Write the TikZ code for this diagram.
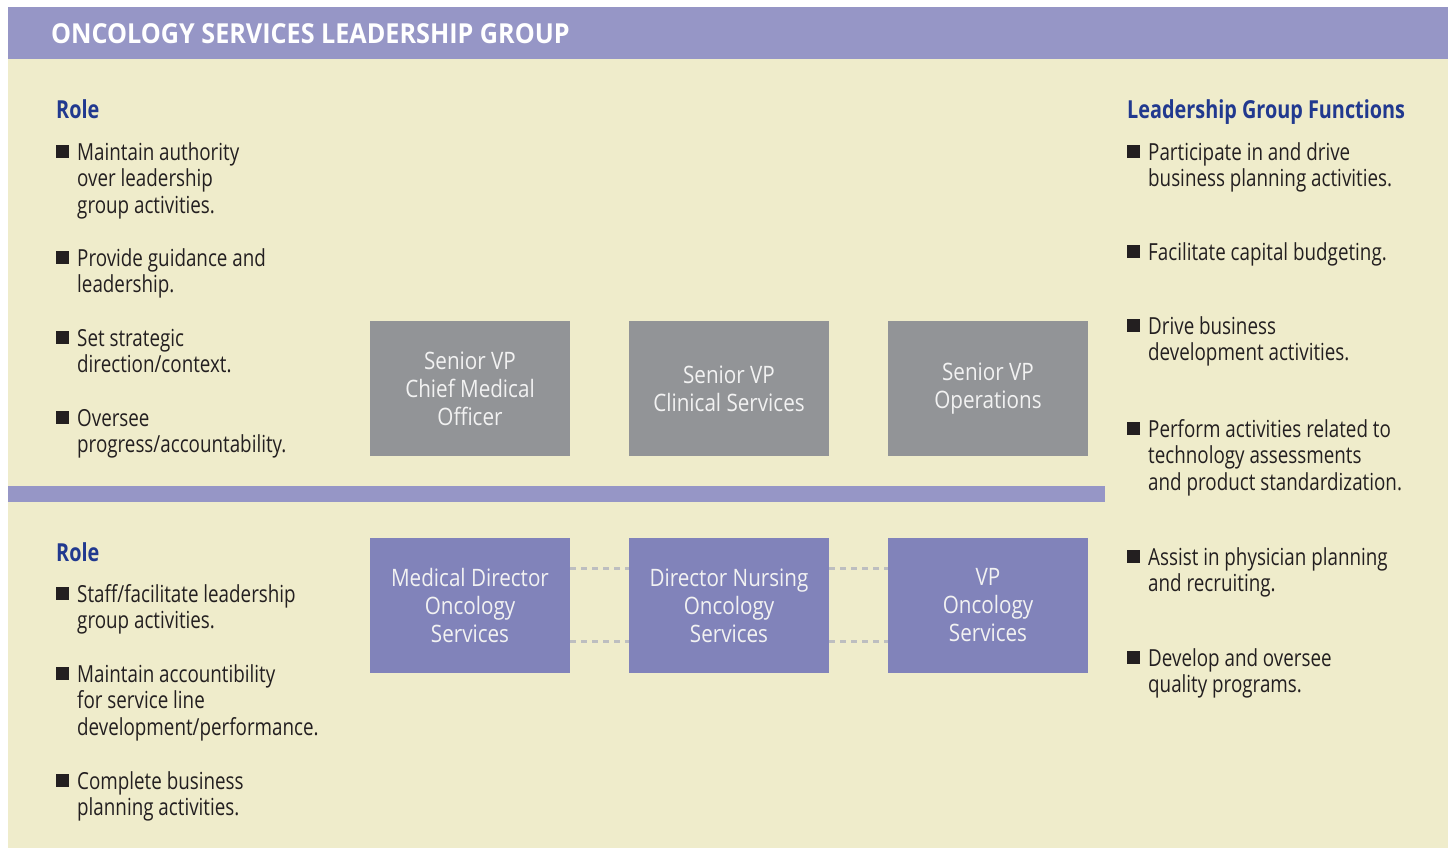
\documentclass[tikz,border=0pt]{standalone}
\usepackage{fontspec}
\setmainfont{Open Sans}[FakeStretch=0.8]
\newfontfamily\boxfont{Open Sans}[FakeStretch=0.86]
\newfontfamily\titlefont{Open Sans}[FakeStretch=0.915]
\definecolor{bandblue}{RGB}{150,150,198}
\definecolor{paper}{RGB}{239,236,203}
\definecolor{boxgray}{RGB}{146,148,151}
\definecolor{boxlilac}{RGB}{129,131,186}
\definecolor{headblue}{RGB}{33,57,143}
\definecolor{ink}{RGB}{35,31,32}
\definecolor{dashgray}{RGB}{189,190,192}
\newcommand{\bodysize}{\fontsize{23.5}{26.5}\selectfont}
\newcommand{\boxsize}{\boxfont\fontsize{24}{28}\selectfont}

\begin{document}
\begin{tikzpicture}[x=1pt,y=-1pt]
    \tikzstyle{bul}=[fill=ink, minimum size=12.5pt, inner sep=0pt, anchor=south west]
    % item nodes sit on the baseline of their last line
    \tikzstyle{item}=[anchor=base west, align=left, inner sep=0pt, text=ink, font=\bodysize]
    \tikzstyle{heading}=[anchor=base west, inner sep=0pt, text=headblue, font=\bfseries\fontsize{24.8}{28}\selectfont]
    \tikzstyle{role}=[minimum width=200pt, minimum height=135pt, inner sep=0pt, align=center, text=white!95!black, font=\boxsize]
    \tikzstyle{link}=[dashgray, line width=2.8pt, dash pattern=on 6pt off 5pt]
    \useasboundingbox (0,0) rectangle (1452,849);
    % panel, title band and divider
    \fill[paper] (8,59) rectangle (1448,848);
    \fill[bandblue] (8,7) rectangle (1448,59);
    \fill[bandblue] (8,486) rectangle (1105,502);
    \node[anchor=base west, inner sep=0pt, text=white, font=\titlefont\bfseries\fontsize{27.5}{30}\selectfont] (title) at (51,43) {ONCOLOGY SERVICES LEADERSHIP GROUP};

    % senior level, left column
    \node[heading] (rolea) at (56,118) {Role};
    \node[bul] (ba1) at (56,158) {};
    \node[item] (ta1) at (77,213) {Maintain authority\\over leadership\\group activities.};
    \node[bul] (ba2) at (56,264) {};
    \node[item] (ta2) at (77,292.5) {Provide guidance and\\leadership.};
    \node[bul] (ba3) at (56,344) {};
    \node[item] (ta3) at (77,372.5) {Set strategic\\direction/context.};
    \node[bul] (ba4) at (56,424) {};
    \node[item] (ta4) at (77,452.5) {Oversee\\progress/accountability.};

    % director level, left column
    \node[heading] (roleb) at (56,561) {Role};
    \node[bul] (bb1) at (56,600) {};
    \node[item] (tb1) at (77,628.5) {Staff/facilitate leadership\\group activities.};
    \node[bul] (bb2) at (56,680) {};
    \node[item] (tb2) at (77,735) {Maintain accountibility\\for service line\\development/performance.};
    \node[bul] (bb3) at (56,787) {};
    \node[item] (tb3) at (77,815.5) {Complete business\\planning activities.};

    % functions, right column
    \node[heading] (func) at (1127,118) {Leadership Group Functions};
    \node[bul] (bf1) at (1127,158) {};
    \node[item] (tf1) at (1148,186.5) {Participate in and drive\\business planning activities.};
    \node[bul] (bf2) at (1127,258) {};
    \node[item] (tf2) at (1148,260) {Facilitate capital budgeting.};
    \node[bul] (bf3) at (1127,332) {};
    \node[item] (tf3) at (1148,360.5) {Drive business\\development activities.};
    \node[bul] (bf4) at (1127,435) {};
    \node[item] (tf4) at (1148,490) {Perform activities related to\\technology assessments\\and product standardization.};
    \node[bul] (bf5) at (1127,563) {};
    \node[item] (tf5) at (1148,591.5) {Assist in physician planning\\and recruiting.};
    \node[bul] (bf6) at (1127,664) {};
    \node[item] (tf6) at (1148,692.5) {Develop and oversee\\quality programs.};

    % the six positions
    \node[role, fill=boxgray] (cmo) at (470,388.5) {Senior VP\\Chief Medical\\Officer};
    \node[role, fill=boxgray] (clin) at (729,388.5) {Senior VP\\Clinical Services};
    \node[role, fill=boxgray] (ops) at (988,388.5) {Senior VP\\Operations};
    \node[role, fill=boxlilac] (meddir) at (470,605.5) {Medical Director\\Oncology\\Services};
    \node[role, fill=boxlilac] (nursdir) at (729,605.5) {Director Nursing\\Oncology\\Services};
    \node[role, fill=boxlilac] (vponc) at (988,605.5) {VP\\Oncology\\Services};

    \draw[link] ([yshift=-31pt]meddir.north east) -- ([yshift=-31pt]nursdir.north west);
    \draw[link] ([yshift=32pt]meddir.south east) -- ([yshift=32pt]nursdir.south west);
    \draw[link] ([yshift=-31pt]nursdir.north east) -- ([yshift=-31pt]vponc.north west);
    \draw[link] ([yshift=32pt]nursdir.south east) -- ([yshift=32pt]vponc.south west);
\end{tikzpicture}
\end{document}
